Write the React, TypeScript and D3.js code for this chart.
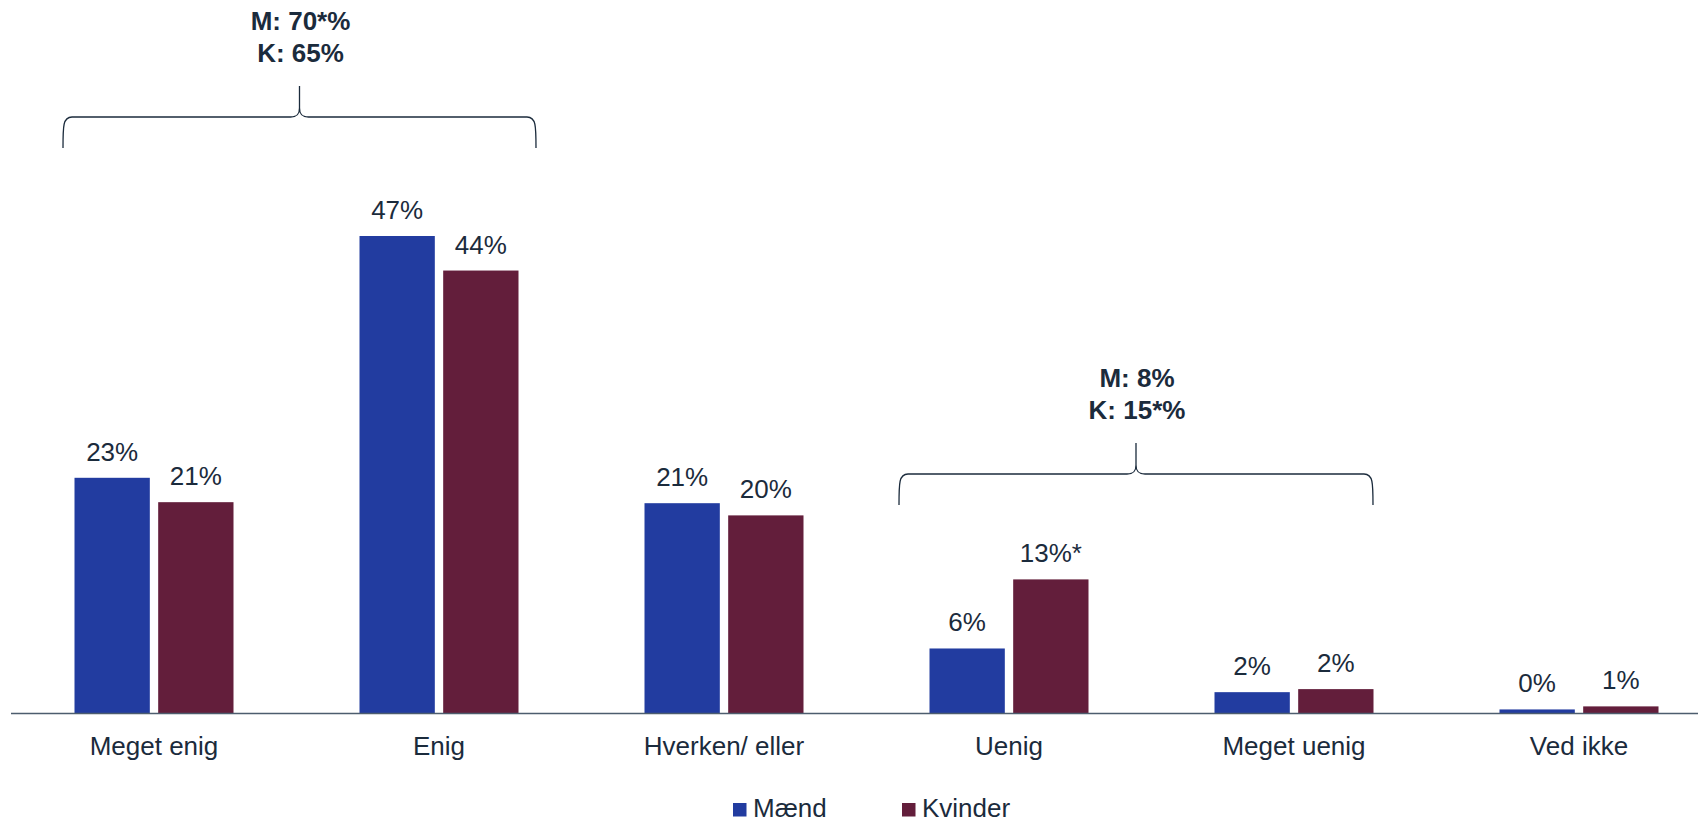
import React from "react";
import * as d3 from "d3";

const categories = ["Meget enig", "Enig", "Hverken/ eller", "Uenig", "Meget uenig", "Ved ikke"];
const seriesNames = ["Mænd", "Kvinder"];
const maendValues = [23.2, 47, 20.7, 6.4, 2.1, 0.4];
const kvinderValues = [20.8, 43.6, 19.5, 13.2, 2.4, 0.7];
const maendLabels = ["23%", "47%", "21%", "6%", "2%", "0%"];
const kvinderLabels = ["21%", "44%", "20%", "13%*", "2%", "1%"];

// brace groups: first and last category covered + texts
const braceFrom = [0, 3];
const braceTo = [1, 4];
const braceTexts = [
  ["M: 70*%", "K: 65%"],
  ["M: 8%", "K: 15*%"],
];

const colors = ["#223ca0", "#631e3b"];
const textColor = "#1b2b3c";
const font = "'Liberation Sans', Arial, sans-serif";

const W = 1698;
const H = 822;

export default function App() {
  const baseY = 713.5;
  const x = d3.scaleBand<string>().domain(categories).range([11.5, 1721.5]).paddingInner(0).paddingOuter(0);
  const inner = d3.scaleBand<string>().domain(seriesNames).range([-79.5, 79.5]).paddingInner(0.1).paddingOuter(0.0);
  const y = d3.scaleLinear().domain([0, 47]).range([baseY, 236]);

  const series = [maendValues, kvinderValues];
  const labels = [maendLabels, kvinderLabels];

  const cx = (c: string) => (x(c) ?? 0) + x.bandwidth() / 2;

  // brace geometry per group (offsets from outer bar edges)
  const braceGeom = [
    { left: cx(categories[braceFrom[0]]) - 91, right: cx(categories[braceTo[0]]) + 97, bottom: 148, hy: 117, tip: 86, text: [29.5, 61.5] },
    { left: cx(categories[braceFrom[1]]) - 110, right: cx(categories[braceTo[1]]) + 79, bottom: 505, hy: 474, tip: 443, text: [386.5, 418.5] },
  ];

  const bracePath = (l: number, r: number, b: number, hy: number, tip: number) => {
    const m = (l + r) / 2;
    const rr = 9;
    return [
      `M${l},${b}`,
      `C${l},${hy + rr} ${l},${hy} ${l + rr},${hy}`,
      `L${m - rr},${hy}`,
      `C${m - 2},${hy} ${m},${hy - 3} ${m},${hy - rr}`,
      `L${m},${tip}`,
      `M${m},${hy - rr}`,
      `C${m},${hy - 3} ${m + 2},${hy} ${m + rr},${hy}`,
      `L${r - rr},${hy}`,
      `C${r},${hy} ${r},${hy + rr} ${r},${b}`,
    ].join(" ");
  };

  return (
    <div style={{ position: "absolute", left: 0, top: 0 }}>
      <svg width={W} height={H} style={{ display: "block", background: "#fff" }} fontFamily={font}>
        {categories.map((c, i) =>
          series.map((vals, s) => {
            const bx = cx(c) + (inner(seriesNames[s]) ?? 0);
            const bw = inner.bandwidth();
            return (
              <g key={c + s}>
                <rect x={bx} y={y(vals[i])} width={bw} height={baseY - y(vals[i])} fill={colors[s]} />
                <text x={bx + bw / 2} y={y(vals[i]) - 17} textAnchor="middle" fontSize={26} fill={textColor}>
                  {labels[s][i]}
                </text>
              </g>
            );
          })
        )}
        <line x1={11} x2={W} y1={baseY} y2={baseY} stroke="#4d5d6e" strokeWidth={1.6} />
        {categories.map((c) => (
          <text key={c} x={cx(c)} y={755} textAnchor="middle" fontSize={26} fill={textColor}>
            {c}
          </text>
        ))}
        {braceGeom.map((g, i) => (
          <g key={i}>
            <path d={bracePath(g.left, g.right, g.bottom, g.hy, g.tip)} fill="none" stroke={textColor} strokeWidth={1.3} />
            {braceTexts[i].map((t, j) => (
              <text key={t} x={(g.left + g.right) / 2 + 1} y={g.text[j]} textAnchor="middle" fontSize={26} fontWeight="bold" fill={textColor}>
                {t}
              </text>
            ))}
          </g>
        ))}
        {seriesNames.map((n, s) => {
          const lx = [733, 902][s];
          return (
            <g key={n}>
              <rect x={lx} y={803} width={13.5} height={13.5} fill={colors[s]} />
              <text x={lx + 20} y={817} fontSize={26} fill={textColor}>
                {n}
              </text>
            </g>
          );
        })}
      </svg>
    </div>
  );
}
